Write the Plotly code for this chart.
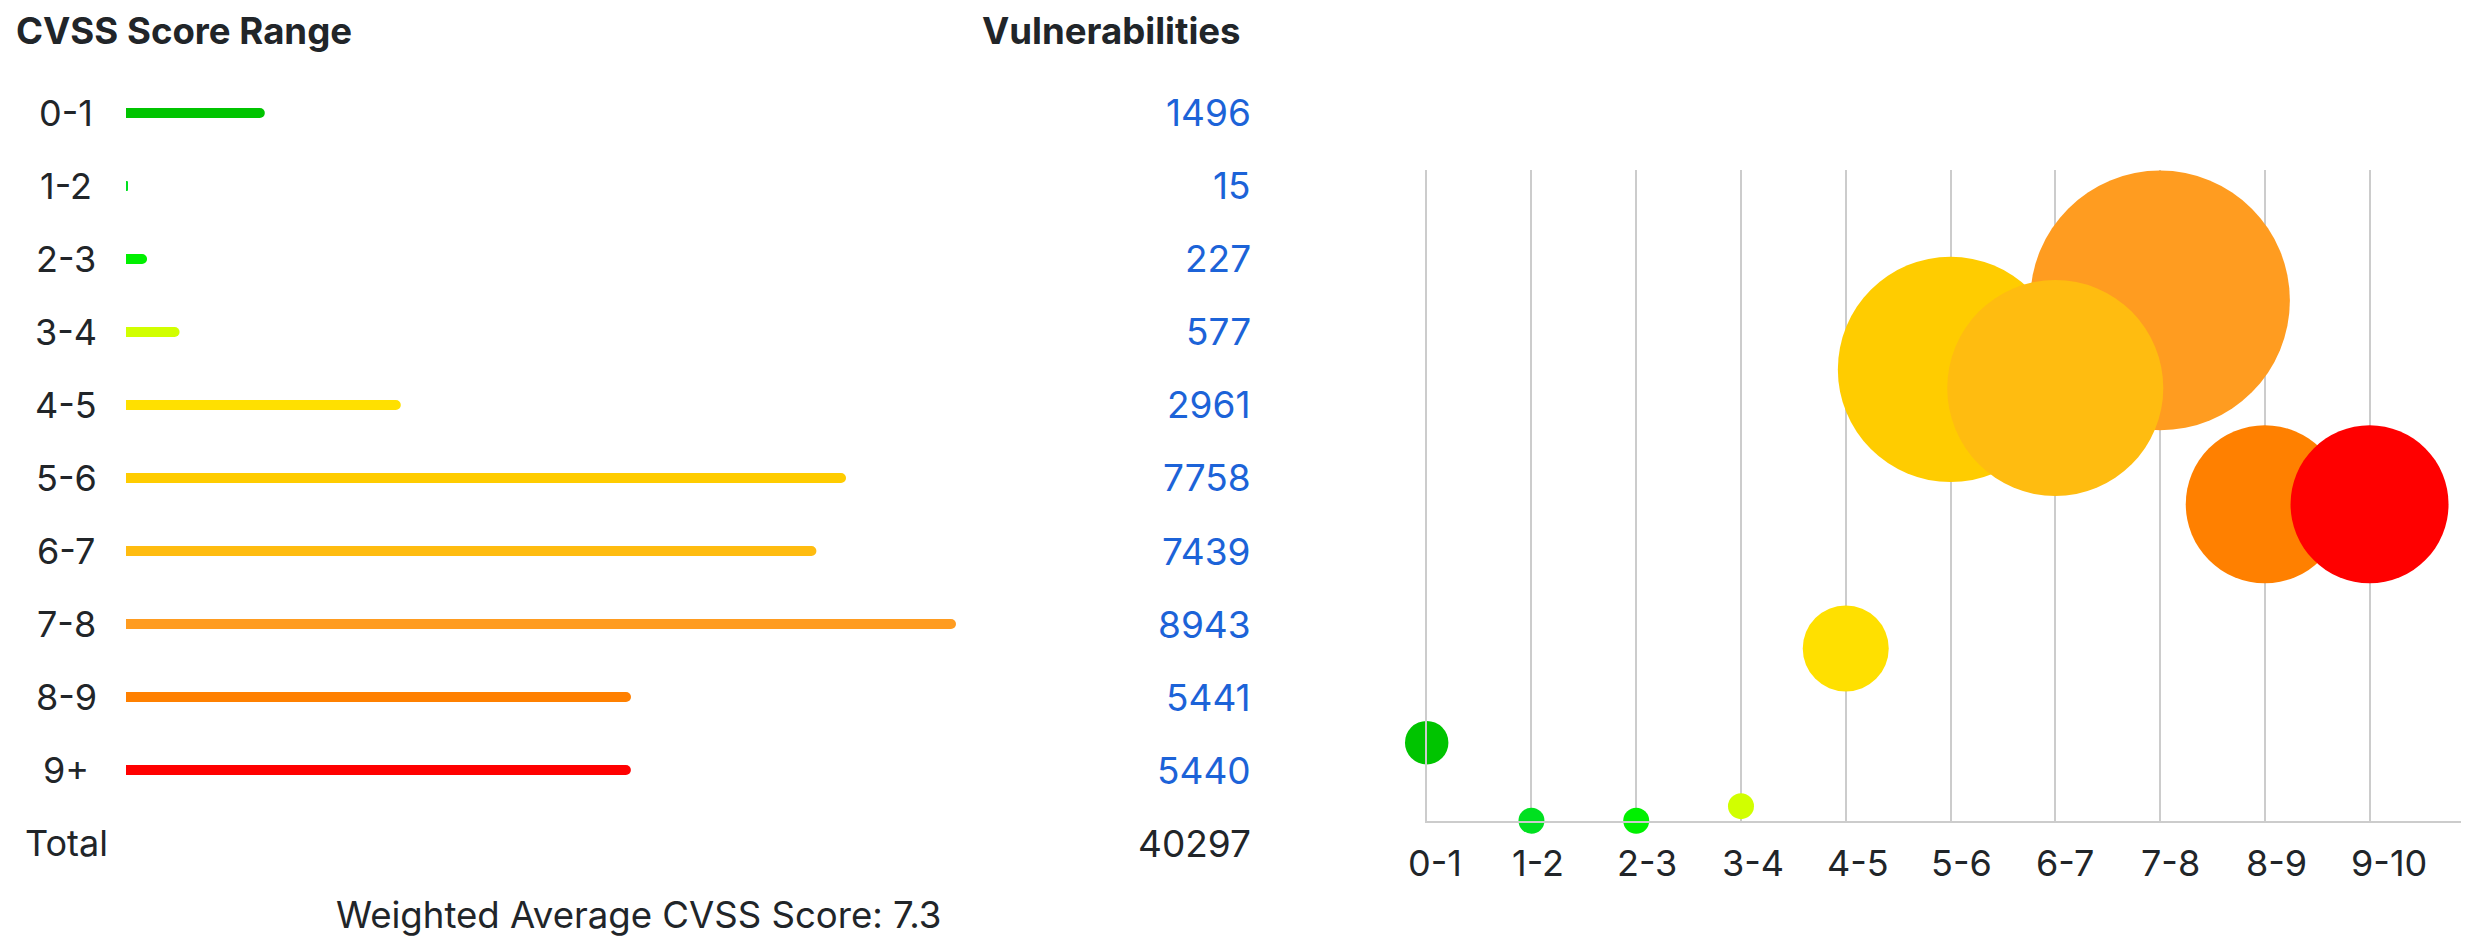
import plotly.graph_objects as go

# ---- data ----
ranges = ["0-1", "1-2", "2-3", "3-4", "4-5", "5-6", "6-7", "7-8", "8-9", "9+"]
counts = [1496, 15, 227, 577, 2961, 7758, 7439, 8943, 5441, 5440]
total_label = "Total"
total = 40297
weighted_avg = 7.3
colors = ["#00C400", "#00E020", "#00F000", "#D1FF00", "#FFE000",
          "#FFCC00", "#FFBC10", "#FF9C20", "#FF8000", "#FF0000"]
bubble_labels = ["0-1", "1-2", "2-3", "3-4", "4-5", "5-6", "6-7", "7-8", "8-9", "9-10"]
bubble_y = [1341, 0, 0, 250, 2961, 7758, 7439, 8943, 5441, 5440]
bubble_size = [1496, 15, 227, 577, 2961, 7758, 7439, 8943, 5441, 5440]

PAGE_W, PAGE_H = 2469, 946
OFF = 8  # default body margin of the html page
W, H = PAGE_W - 2 * OFF, PAGE_H - 2 * OFF
FONT = "Inter, 'Noto Sans', sans-serif"
TXT = "#212529"
BLUE = "#1c63d8"
GRID = "#cccccc"


def fx(p):
    return (p - OFF) / W


def fy(p):
    return 1 - (p - OFF) / H


fig = go.Figure()

# left: horizontal rounded bars
fig.add_trace(go.Bar(
    x=counts, y=ranges, orientation="h", width=0.137,
    marker=dict(color=colors, cornerradius=5, line=dict(width=0)),
    xaxis="x", yaxis="y", hoverinfo="skip", showlegend=False,
))

# right: bubble chart (larger bubbles drawn first)
order = sorted(range(len(bubble_size)), key=lambda i: -bubble_size[i])
fig.add_trace(go.Scatter(
    x=[bubble_labels[i] for i in order],
    y=[bubble_y[i] for i in order],
    mode="markers",
    marker=dict(size=[bubble_size[i] for i in order], sizemode="diameter",
                sizeref=34.43, sizemin=13,
                color=[colors[i] for i in order], opacity=1,
                line=dict(width=0)),
    cliponaxis=False, xaxis="x2", yaxis="y2", hoverinfo="skip", showlegend=False,
))

ann = []
# headers
ann.append(dict(text="<b>CVSS Score Range</b>", xref="paper", yref="paper",
                x=fx(14), y=fy(31), xanchor="left", yanchor="middle",
                showarrow=False, font=dict(family=FONT, size=36.6, color=TXT)))
ann.append(dict(text="<b>Vulnerabilities</b>", xref="paper", yref="paper",
                x=fx(1243), y=fy(31), xanchor="right", yanchor="middle",
                showarrow=False, font=dict(family=FONT, size=36.6, color=TXT)))
# rows
for r, c in zip(ranges, counts):
    ann.append(dict(text=r, xref="paper", yref="y", x=fx(66), y=r,
                    xanchor="center", yanchor="middle", showarrow=False,
                    font=dict(family=FONT, size=36, color=TXT)))
    ann.append(dict(text=str(c), xref="paper", yref="y", x=fx(1253), y=r,
                    xanchor="right", yanchor="middle", showarrow=False,
                    font=dict(family=FONT, size=37, color=BLUE)))
ann.append(dict(text=total_label, xref="paper", yref="y", x=fx(66), y=total_label,
                xanchor="center", yanchor="middle", showarrow=False,
                font=dict(family=FONT, size=36, color=TXT)))
ann.append(dict(text=str(total), xref="paper", yref="y", x=fx(1253), y=total_label,
                xanchor="right", yanchor="middle", showarrow=False,
                font=dict(family=FONT, size=37, color=TXT)))
ann.append(dict(text=f"Weighted Average CVSS Score: {weighted_avg}",
                xref="paper", yref="paper", x=fx(638), y=fy(915),
                xanchor="center", yanchor="middle", showarrow=False,
                font=dict(family=FONT, size=36.6, color=TXT)))
# bubble x labels (left aligned near gridline)
for b in bubble_labels:
    ann.append(dict(text=b, xref="x2", yref="paper", x=b, y=fy(863),
                    xanchor="left", yanchor="middle", xshift=-21, showarrow=False,
                    font=dict(family=FONT, size=36, color=TXT)))

x2_left = 1426.7
x2_step = 104.76
x2_max = (PAGE_W - OFF - x2_left) / x2_step

fig.update_layout(
    width=W, height=H, margin=dict(l=0, r=0, t=0, b=0),
    paper_bgcolor="white", plot_bgcolor="white", showlegend=False,
    annotations=ann,
    xaxis=dict(domain=[fx(126), fx(956)], range=[0, 8943], visible=False,
               fixedrange=True, anchor="y"),
    yaxis=dict(domain=[fy(879.5), fy(76.5)], type="category",
               categoryorder="array", categoryarray=ranges + [total_label],
               range=[10.5, -0.5], visible=False, fixedrange=True, anchor="x"),
    xaxis2=dict(domain=[fx(x2_left), 1], type="category", categoryorder="array",
                categoryarray=bubble_labels, range=[0, x2_max],
                showgrid=True, gridcolor=GRID, gridwidth=2,
                showticklabels=False, ticks="", showline=True, linecolor=GRID,
                linewidth=2, zeroline=False, anchor="y2", fixedrange=True),
    yaxis2=dict(domain=[fy(820.7), fy(170)], range=[0, 11186], showgrid=False,
                showticklabels=False, ticks="", showline=True, linecolor=GRID,
                linewidth=2, zeroline=False, anchor="x2", fixedrange=True),
)

fig.write_html("out.html")
